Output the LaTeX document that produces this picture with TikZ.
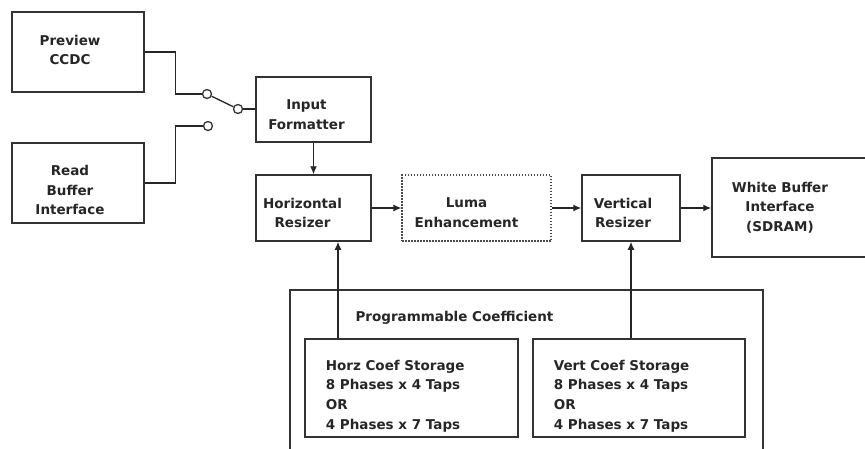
\documentclass[tikz,border=0pt]{standalone}
\usepackage{fontspec}
\setmainfont{DejaVu Sans}
\usepackage{xcolor}
\usetikzlibrary{arrows,arrows.meta}

\begin{document}
\begin{tikzpicture}[x=1pt, y=-1pt,
    box/.style={draw=black!80, line width=1.5pt},
    txt/.style={font=\fontsize{13.5}{19.7}\selectfont\bfseries, text=black!85, align=center},
    sw/.style={circle, draw=black!80, line width=1.3pt, minimum size=9pt, inner sep=0pt},
    wire/.style={draw=black!85, line width=1.3pt},
    arr/.style={wire, -{Latex[length=8pt, width=7pt]}}]

  \clip (0,0) rectangle (865,448);

  % sources
  \node[box, minimum width=132pt, minimum height=80pt,
    label={[txt, xshift=-8pt, yshift=2pt]center:{Preview\\CCDC}}] (ccdc) at (78,52) {};
  \node[box, minimum width=132pt, minimum height=80pt,
    label={[txt, xshift=-8pt, yshift=-7pt]center:{Read\\Buffer\\Interface}}] (rbi) at (78,183) {};

  % switch
  \node[sw] (s1) at (207,94) {};
  \node[sw] (s2) at (238,109) {};
  \node[sw] (s3) at (208,126) {};

  % pipeline
  \node[box, minimum width=115pt, minimum height=65pt,
    label={[txt, xshift=-7pt, yshift=-5pt]center:{Input\\Formatter}}] (inf) at (313.5,109.5) {};
  \node[box, minimum width=115pt, minimum height=66pt,
    label={[txt, xshift=-11pt, yshift=-5pt]center:{Horizontal\\Resizer}}] (hr) at (313.5,208) {};
  \node[draw=black!70, line width=1.2pt, dash pattern=on 1.5pt off 1.5pt, minimum width=149pt, minimum height=66pt,
    label={[txt, xshift=-10pt, yshift=-5pt]center:{Luma\\Enhancement}}] (luma) at (476.5,208) {};
  \node[box, minimum width=98pt, minimum height=66pt,
    label={[txt, xshift=-8pt, yshift=-5pt]center:{Vertical\\Resizer}}] (vr) at (631,208) {};
  \node[box, minimum width=168pt, minimum height=99pt,
    label={[txt, xshift=-16pt]center:{White Buffer\\Interface\\(SDRAM)}}] (wbi) at (796,207.5) {};

  % coefficient storage
  \node[box, anchor=north west, minimum width=473pt, minimum height=175pt] (prog) at (289,289) {};
  \node[txt, anchor=west] (progt) at (352,318) {Programmable Coefficient};
  \node[box, minimum width=213pt, minimum height=98pt] (hcs) at (411.5,388) {};
  \node[box, minimum width=212pt, minimum height=98pt] (vcs) at (639,388) {};
  \node[txt, align=left, anchor=west] (hcst) at ([xshift=18pt, yshift=-8pt]hcs.west)
    {Horz Coef Storage\\8 Phases x 4 Taps\\OR\\4 Phases x 7 Taps};
  \node[txt, align=left, anchor=west] (vcst) at ([xshift=18pt, yshift=-8pt]vcs.west)
    {Vert Coef Storage\\8 Phases x 4 Taps\\OR\\4 Phases x 7 Taps};

  % connections
  \draw[wire] (ccdc.east) -- ++(31,0) |- (s1.west);
  \draw[wire] (rbi.east) -- ++(31,0) |- (s3.west);
  \draw[wire] (s1) -- (s2);
  \draw[wire] (s2.east) -- (s2.east -| inf.west);
  \draw[arr] (inf.south) -- (hr.north);
  \draw[arr] (hr.east) -- (luma.west);
  \draw[arr] (luma.east) -- (vr.west);
  \draw[arr] (vr.east) -- (vr.east -| wbi.west);
  \draw[arr] ([xshift=24.5pt]hr.south |- hcs.north) -- ([xshift=24.5pt]hr.south);
  \draw[arr] (vr.south |- vcs.north) -- (vr.south);
\end{tikzpicture}
\end{document}
